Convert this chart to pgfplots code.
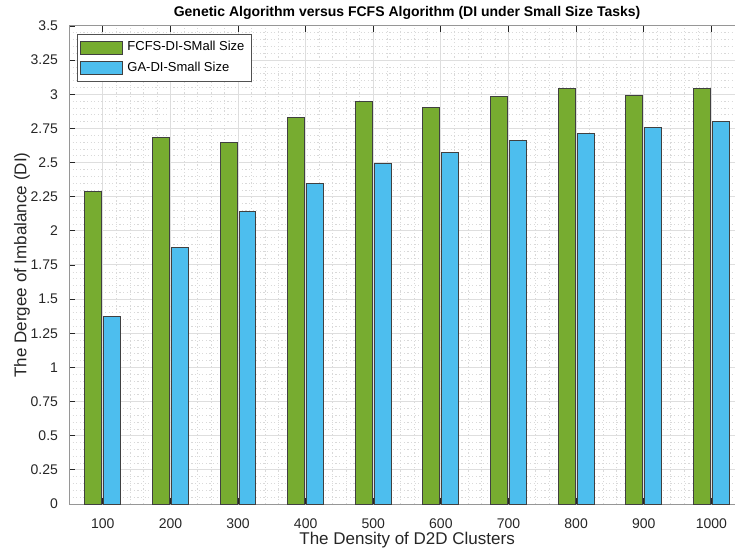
\documentclass[border=0pt]{standalone}
\usepackage{pgfplots}
\pgfplotsset{compat=1.18}
\usepackage{fontspec}
\setmainfont{Liberation Sans}
\definecolor{fcfsgreen}{RGB}{119,172,48}
\definecolor{gablue}{RGB}{77,190,238}
\definecolor{gridgray}{RGB}{222,222,222}
\definecolor{axisgray}{RGB}{150,150,150}
\definecolor{labelgray}{RGB}{38,38,38}

\begin{document}
\begin{tikzpicture}
\begin{axis}[
    scale only axis,
    width=338pt, height=239pt,
    xmin=0.5, xmax=10.5, ymin=0, ymax=3.5,
    xtick={1,2,3,4,5,6,7,8,9,10},
    xticklabels={100,200,300,400,500,600,700,800,900,1000},
    ytick={0,0.25,0.5,0.75,1,1.25,1.5,1.75,2,2.25,2.5,2.75,3,3.25,3.5},
    yticklabels={0,0.25,0.5,0.75,1,1.25,1.5,1.75,2,2.25,2.5,2.75,3,3.25,3.5},
    minor x tick num=4, minor y tick num=4,
    grid=both,
    major grid style={gridgray, line width=0.5pt},
    minor grid style={gray!30, dash pattern=on 0.6pt off 1.2pt, line width=0.3pt},
    tick align=inside,
    major tick length=3pt, minor tick length=0pt,
    axis line style={axisgray, line width=0.5pt},
    tick style={labelgray, line width=0.4pt},
    tick label style={font=\fontsize{7}{8}\selectfont, text=labelgray},
    yticklabel style={xshift=-2pt},
    xticklabel style={yshift=-4pt},
    every axis title shift=0pt,
    title={Genetic Algorithm versus FCFS Algorithm (DI under Small Size Tasks)},
    title style={font=\bfseries\fontsize{7}{8}\selectfont, at={(axis description cs:0.5,1)}, anchor=base, yshift=4.5pt},
    xlabel={The Density of D2D Clusters},
    ylabel={The Dergee of Imbalance (DI)},
    label style={font=\fontsize{8.5}{10}\selectfont, text=labelgray},
    xlabel style={at={(axis description cs:0.5,-0.0753)}, anchor=center},
    ylabel style={at={(axis description cs:-0.0695,0.5)}, anchor=center},
    legend style={at={(axis description cs:0,1)}, anchor=north west, xshift=4pt, yshift=-4pt,
        draw=labelgray!80, fill=white, font=\fontsize{6.5}{7.5}\selectfont,
        cells={anchor=west}, row sep=0pt, inner sep=1.5pt},
    legend image code/.code={\draw[#1] (0pt,-3.25pt) rectangle (21pt,3.25pt);},
]
\addplot[ybar, bar width=0.25, bar shift=-0.14, fill=fcfsgreen, draw=black!75, line width=0.5pt]
    coordinates {(1,2.29) (2,2.68) (3,2.65) (4,2.83) (5,2.95) (6,2.90) (7,2.98) (8,3.04) (9,2.99) (10,3.04)};
\addplot[ybar, bar width=0.25, bar shift=0.14, fill=gablue, draw=black!75, line width=0.5pt]
    coordinates {(1,1.37) (2,1.88) (3,2.14) (4,2.35) (5,2.49) (6,2.57) (7,2.66) (8,2.71) (9,2.76) (10,2.80)};
\legend{FCFS-DI-SMall Size, GA-DI-Small Size}
\coordinate (BL) at (axis cs:-0.521,-0.337);
\coordinate (TR) at (axis cs:10.35,3.69);
\end{axis}
\pgfresetboundingbox
\useasboundingbox (BL) rectangle (TR);
\end{tikzpicture}
\end{document}
